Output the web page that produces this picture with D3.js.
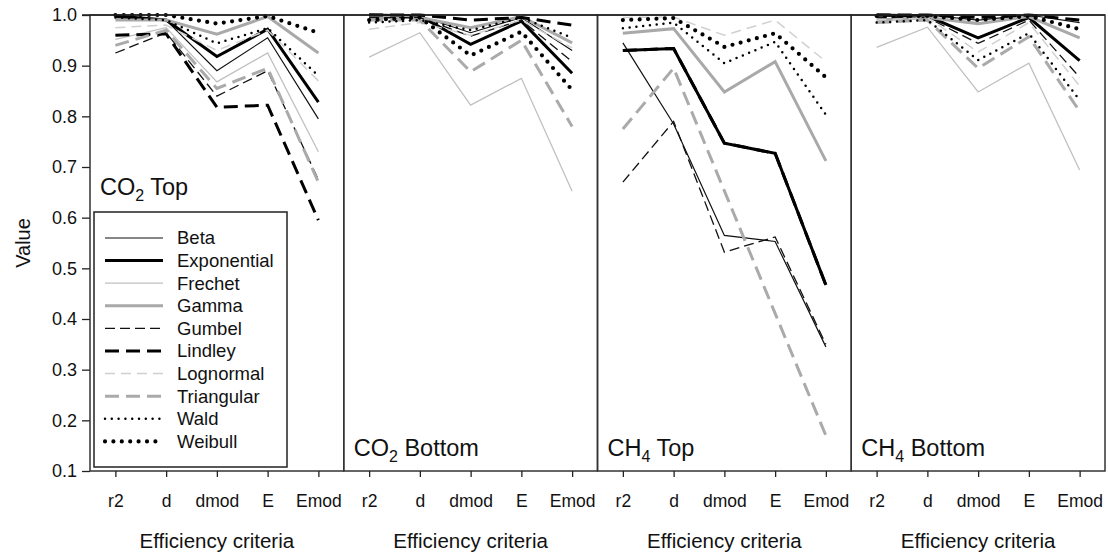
<!DOCTYPE html>
<html>
<head>
<meta charset="utf-8">
<script src="https://cdnjs.cloudflare.com/ajax/libs/d3/7.8.5/d3.min.js"></script>
<style>
    body { margin: 0; background: #fff; }
    svg text { font-family: "Liberation Sans", Arial, sans-serif; fill: #111; }
</style>
</head>
<body>
<div id="chart"></div>
<script>
// categories on the x axis of each panel
var criteria = ["r2", "d", "dmod", "E", "Emod"];
var yTicks = [0.1, 0.2, 0.3, 0.4, 0.5, 0.6, 0.7, 0.8, 0.9, 1.0];
var distributions = ["Beta", "Exponential", "Frechet", "Gamma", "Gumbel", "Lindley", "Lognormal", "Triangular", "Wald", "Weibull"];
var panelNames = [["CO", "2", " Top"], ["CO", "2", " Bottom"], ["CH", "4", " Top"], ["CH", "4", " Bottom"]];

// values per panel, one row per distribution (r2, d, dmod, E, Emod)
var co2Top = [
    [0.995, 0.99, 0.89, 0.955, 0.795],
    [0.998, 0.99, 0.918, 0.972, 0.828],
    [0.952, 0.975, 0.868, 0.925, 0.73],
    [0.99, 0.99, 0.962, 0.997, 0.925],
    [0.925, 0.965, 0.84, 0.89, 0.675],
    [0.96, 0.963, 0.818, 0.822, 0.595],
    [0.975, 0.98, 0.93, 0.97, 0.87],
    [0.94, 0.97, 0.855, 0.895, 0.67],
    [0.995, 0.99, 0.944, 0.974, 0.88],
    [1.0, 1.0, 0.983, 0.998, 0.965]
];
var co2Bottom = [
    [0.995, 0.998, 0.965, 0.995, 0.93],
    [1.0, 0.998, 0.942, 0.988, 0.885],
    [0.917, 0.965, 0.822, 0.875, 0.652],
    [0.995, 0.995, 0.975, 0.997, 0.945],
    [0.995, 0.995, 0.958, 0.99, 0.908],
    [1.0, 1.0, 0.99, 0.995, 0.98],
    [0.972, 0.985, 0.96, 0.99, 0.935],
    [0.99, 0.99, 0.888, 0.95, 0.78],
    [0.985, 0.99, 0.97, 0.995, 0.955],
    [0.99, 0.995, 0.92, 0.967, 0.852]
];
var ch4Top = [
    [0.945, 0.785, 0.565, 0.553, 0.345],
    [0.93, 0.934, 0.747, 0.727, 0.467],
    [0.964, 0.973, 0.848, 0.908, 0.712],
    [0.964, 0.973, 0.848, 0.908, 0.712],
    [0.67, 0.79, 0.532, 0.562, 0.35],
    [0.93, 0.934, 0.747, 0.727, 0.467],
    [0.995, 0.996, 0.96, 0.99, 0.908],
    [0.775, 0.895, 0.653, 0.411, 0.17],
    [0.974, 0.985, 0.905, 0.947, 0.803],
    [0.99, 0.994, 0.937, 0.964, 0.877]
];
var ch4Bottom = [
    [1.0, 1.0, 0.99, 1.0, 0.985],
    [1.0, 0.998, 0.955, 0.995, 0.91],
    [0.936, 0.976, 0.848, 0.905, 0.694],
    [0.99, 0.995, 0.983, 0.997, 0.955],
    [0.995, 0.995, 0.944, 0.99, 0.877],
    [1.0, 1.0, 0.995, 1.0, 0.99],
    [0.99, 0.995, 0.927, 0.985, 0.86],
    [0.985, 0.99, 0.895, 0.957, 0.81],
    [0.985, 0.99, 0.911, 0.964, 0.832],
    [0.998, 0.998, 0.99, 0.998, 0.972]
];
var panels = [co2Top, co2Bottom, ch4Top, ch4Bottom];

// line look for every distribution
var styles = [
    { color: "#111", width: 1.2, dash: null, cap: "butt" },
    { color: "#000", width: 3, dash: null, cap: "butt" },
    { color: "#c0c0c0", width: 1.3, dash: null, cap: "butt" },
    { color: "#a9a9a9", width: 3, dash: null, cap: "butt" },
    { color: "#111", width: 1.3, dash: "10,5", cap: "butt" },
    { color: "#000", width: 3, dash: "14,7", cap: "butt" },
    { color: "#d0d0d0", width: 1.5, dash: "10,6", cap: "butt" },
    { color: "#aaa", width: 3, dash: "14,7", cap: "butt" },
    { color: "#000", width: 2.5, dash: "0,6.8", cap: "round" },
    { color: "#000", width: 4.2, dash: "0,8.4", cap: "round" }
];

var svgWidth = 1108;
var svgHeight = 554;
var plotLeft = 90;
var plotRight = 1105;
var plotTop = 15;
var plotBottom = 471;
var panelW = (plotRight - plotLeft) / 4;

var svg = d3.select("#chart")
    .append("svg")
    .attr("width", svgWidth)
    .attr("height", svgHeight);

var yScale = d3.scaleLinear().domain([0.1, 1.0]).range([plotBottom, plotTop]);

// y axis, only on the first panel
var yAxis = d3.axisLeft(yScale)
    .tickValues(yTicks)
    .tickFormat(d3.format(".1f"))
    .tickSize(8)
    .tickSizeOuter(0)
    .tickPadding(5);

var yG = svg.append("g")
    .attr("transform", `translate(${plotLeft}, 0)`)
    .call(yAxis);
yG.select(".domain").remove();
yG.selectAll("line").attr("stroke", "#222").attr("stroke-width", 1.3);
yG.selectAll("text").attr("font-size", "18px").attr("fill", "#111");

svg.append("text")
    .attr("transform", `translate(30, ${(plotTop + plotBottom) / 2}) rotate(-90)`)
    .attr("text-anchor", "middle")
    .attr("font-size", "20px")
    .text("Value");

var line = d3.line();

panels.forEach(function (rows, p) {
    var x0 = plotLeft + p * panelW;
    var xScale = d3.scalePoint()
        .domain(criteria)
        .range([x0, x0 + panelW])
        .padding(0.5);

    var g = svg.append("g");

    // panel frame
    g.append("rect")
        .attr("x", x0)
        .attr("y", plotTop)
        .attr("width", panelW)
        .attr("height", plotBottom - plotTop)
        .attr("fill", "none")
        .attr("stroke", "#333")
        .attr("stroke-width", 1.5);

    // x axis
    var xG = g.append("g")
        .attr("transform", `translate(0, ${plotBottom})`)
        .call(d3.axisBottom(xScale).tickSize(6).tickSizeOuter(0).tickPadding(18));
    xG.select(".domain").remove();
    xG.selectAll("line").attr("stroke", "#222").attr("stroke-width", 1.3);
    xG.selectAll("text").attr("font-size", "17.5px").attr("fill", "#111");

    g.append("text")
        .attr("x", x0 + panelW / 2)
        .attr("y", 548)
        .attr("text-anchor", "middle")
        .attr("font-size", "20.5px")
        .text("Efficiency criteria");

    // series lines
    rows.forEach(function (vals, i) {
        var s = styles[i];
        g.append("path")
            .attr("d", line(vals.map(function (v, j) { return [xScale(criteria[j]), yScale(v)]; })))
            .attr("fill", "none")
            .attr("stroke", s.color)
            .attr("stroke-width", s.width)
            .attr("stroke-dasharray", s.dash)
            .attr("stroke-linecap", s.cap)
            .attr("stroke-linejoin", "miter");
    });

    // panel label with subscript
    var labelX = p === 0 ? 100 : x0 + 10;
    var labelY = p === 0 ? 195 : 456;
    var name = panelNames[p];
    var t = g.append("text")
        .attr("x", labelX)
        .attr("y", labelY)
        .attr("font-size", "23.5px");
    t.append("tspan").text(name[0]);
    t.append("tspan").attr("font-size", "16px").attr("dy", 6).text(name[1]);
    t.append("tspan").attr("dy", -6).text(name[2]);
});

// top line reaches the 1.0 tick
svg.append("line")
    .attr("x1", plotLeft - 8).attr("x2", plotRight)
    .attr("y1", plotTop).attr("y2", plotTop)
    .attr("stroke", "#222").attr("stroke-width", 1.5);

// legend in the first panel
var legend = svg.append("g");
legend.append("rect")
    .attr("x", 94).attr("y", 212)
    .attr("width", 193).attr("height", 255)
    .attr("fill", "#fff")
    .attr("stroke", "#222")
    .attr("stroke-width", 1.5);

distributions.forEach(function (name, i) {
    var s = styles[i];
    var ly = 238 + i * 22.6;
    legend.append("line")
        .attr("x1", 105).attr("x2", 163)
        .attr("y1", ly).attr("y2", ly)
        .attr("stroke", s.color)
        .attr("stroke-width", s.width)
        .attr("stroke-dasharray", s.dash)
        .attr("stroke-linecap", s.cap);
    legend.append("text")
        .attr("x", 177)
        .attr("y", ly)
        .attr("dy", "0.35em")
        .attr("font-size", "18.5px")
        .text(name);
});
</script>
</body>
</html>
